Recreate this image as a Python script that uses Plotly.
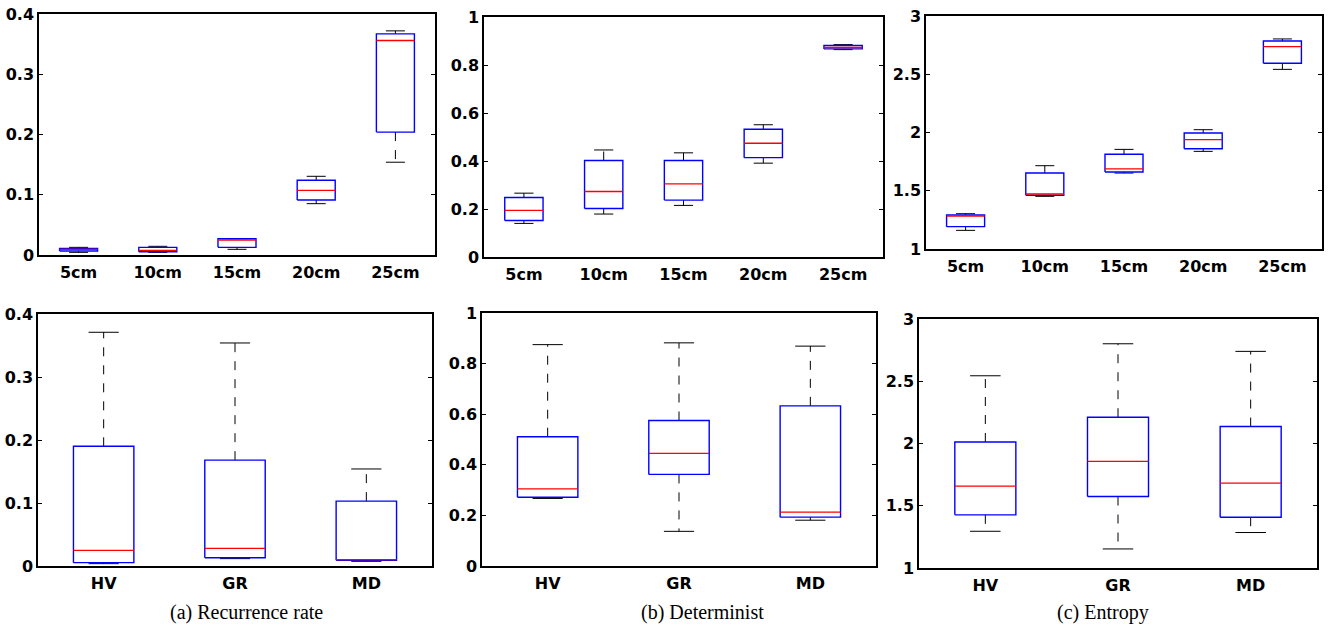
import plotly.graph_objects as go

# ---------------- data ----------------
dist_labels = ["5cm", "10cm", "15cm", "20cm", "25cm"]
class_labels = ["HV", "GR", "MD"]

rr_dist_lower = [0.0044, 0.0044, 0.0094, 0.0852, 0.154]
rr_dist_q1 = [0.0066, 0.0055, 0.0127, 0.0913, 0.204]
rr_dist_median = [0.0094, 0.0077, 0.0249, 0.1073, 0.356]
rr_dist_q3 = [0.0110, 0.0127, 0.0270, 0.1240, 0.367]
rr_dist_upper = [0.0127, 0.0144, 0.0271, 0.1306, 0.372]

det_dist_lower = [0.140, 0.179, 0.215, 0.391, 0.864]
det_dist_q1 = [0.152, 0.202, 0.237, 0.414, 0.867]
det_dist_median = [0.194, 0.273, 0.305, 0.474, 0.873]
det_dist_q3 = [0.248, 0.402, 0.402, 0.532, 0.881]
det_dist_upper = [0.266, 0.446, 0.434, 0.551, 0.885]

ent_dist_lower = [1.160, 1.452, 1.652, 1.838, 2.542]
ent_dist_q1 = [1.192, 1.461, 1.661, 1.861, 2.594]
ent_dist_median = [1.283, 1.472, 1.687, 1.938, 2.737]
ent_dist_q3 = [1.292, 1.652, 1.813, 1.996, 2.785]
ent_dist_upper = [1.303, 1.715, 1.855, 2.024, 2.803]

rr_class_lower = [0.0037, 0.0117, 0.0074]
rr_class_q1 = [0.0053, 0.0132, 0.0090]
rr_class_median = [0.0249, 0.0281, 0.0100]
rr_class_q3 = [0.190, 0.168, 0.103]
rr_class_upper = [0.371, 0.354, 0.154]

det_class_lower = [0.267, 0.137, 0.181]
det_class_q1 = [0.272, 0.362, 0.193]
det_class_median = [0.305, 0.445, 0.213]
det_class_q3 = [0.511, 0.575, 0.633]
det_class_upper = [0.875, 0.882, 0.869]

ent_class_lower = [1.295, 1.153, 1.285]
ent_class_q1 = [1.427, 1.574, 1.408]
ent_class_median = [1.658, 1.856, 1.682]
ent_class_q3 = [2.012, 2.211, 2.136]
ent_class_upper = [2.544, 2.801, 2.740]

captions = ["(a) Recurrence rate", "(b) Determinist", "(c) Entropy"]

# ---------------- layout constants ----------------
W, H = 1330, 628
panels = [
    (dist_labels, rr_dist_lower, rr_dist_q1, rr_dist_median, rr_dist_q3, rr_dist_upper, [0, 0.4], 0.1, [39, 435, 14, 255], 0.24),
    (dist_labels, det_dist_lower, det_dist_q1, det_dist_median, det_dist_q3, det_dist_upper, [0, 1], 0.2, [484, 883, 17, 257], 0.24),
    (dist_labels, ent_dist_lower, ent_dist_q1, ent_dist_median, ent_dist_q3, ent_dist_upper, [1, 3], 0.5, [926, 1322, 16, 249], 0.24),
    (class_labels, rr_class_lower, rr_class_q1, rr_class_median, rr_class_q3, rr_class_upper, [0, 0.4], 0.1, [38, 432, 314, 566], 0.23),
    (class_labels, det_class_lower, det_class_q1, det_class_median, det_class_q3, det_class_upper, [0, 1], 0.2, [482, 876, 313, 566], 0.23),
    (class_labels, ent_class_lower, ent_class_q1, ent_class_median, ent_class_q3, ent_class_upper, [1, 3], 0.5, [919, 1317, 319, 568], 0.23),
]

TICK_FONT = dict(family="DejaVu Sans", size=16, color="black", weight="bold")

fig = go.Figure()
layout_updates = {}

for k, (labels, lo, q1, med, q3, up, yr, dt, px, hw) in enumerate(panels):
    n = k + 1
    xa = "x" if n == 1 else f"x{n}"
    ya = "y" if n == 1 else f"y{n}"
    xpos = list(range(1, len(labels) + 1))

    wx, wy, cx, cy, bx, by, mx, my = [], [], [], [], [], [], [], []
    for i, p in enumerate(xpos):
        wx += [p, p, None, p, p, None]
        wy += [q3[i], up[i], None, q1[i], lo[i], None]
        cw = hw / 2
        cx += [p - cw, p + cw, None, p - cw, p + cw, None]
        cy += [up[i], up[i], None, lo[i], lo[i], None]
        bx += [p - hw, p + hw, p + hw, p - hw, p - hw, None]
        by += [q1[i], q1[i], q3[i], q3[i], q1[i], None]
        mx += [p - hw, p + hw, None]
        my += [med[i], med[i], None]

    common = dict(mode="lines", xaxis=xa, yaxis=ya, showlegend=False, hoverinfo="skip")
    fig.add_trace(go.Scatter(x=wx, y=wy, line=dict(color="black", width=1, dash="dash"), **common))
    fig.add_trace(go.Scatter(x=cx, y=cy, line=dict(color="black", width=1), **common))
    fig.add_trace(go.Scatter(x=bx, y=by, line=dict(color="#0000FF", width=1.4), **common))
    fig.add_trace(go.Scatter(x=mx, y=my, line=dict(color="#FF0000", width=1.3), **common))

    l, r, t, b = px
    xkey = "xaxis" if n == 1 else f"xaxis{n}"
    ykey = "yaxis" if n == 1 else f"yaxis{n}"
    layout_updates[xkey] = dict(
        domain=[l / W, r / W], anchor=ya, range=[0.5, len(labels) + 0.5],
        tickvals=xpos, ticktext=labels, ticks="", showgrid=False, zeroline=False,
        showline=True, mirror=True, linecolor="black", linewidth=1.5,
        tickfont=TICK_FONT, ticklabelstandoff=2, automargin=False,
    )
    layout_updates[ykey] = dict(
        domain=[1 - b / H, 1 - t / H], anchor=xa, range=yr, dtick=dt, tick0=yr[0],
        ticks="inside", ticklen=4, tickcolor="black", showgrid=False, zeroline=False,
        showline=True, mirror="ticks", linecolor="black", linewidth=1.5,
        tickfont=TICK_FONT, automargin=False,
    )

fig.update_layout(
    template="none",
    width=W, height=H, margin=dict(l=0, r=0, t=0, b=0, pad=0),
    paper_bgcolor="white", plot_bgcolor="white", **layout_updates,
)

caption_x = [246, 702, 1103]
for cap, cxp in zip(captions, caption_x):
    fig.add_annotation(
        text=cap, x=cxp / W, y=1 - 612 / H, xref="paper", yref="paper",
        showarrow=False, xanchor="center", yanchor="middle",
        font=dict(family="Liberation Serif", size=20, color="black"),
    )

fig.write_html(
    "out.html",
    config={"displayModeBar": False},
    post_script="document.body.style.margin='0px'; document.body.style.overflow='hidden';",
)
